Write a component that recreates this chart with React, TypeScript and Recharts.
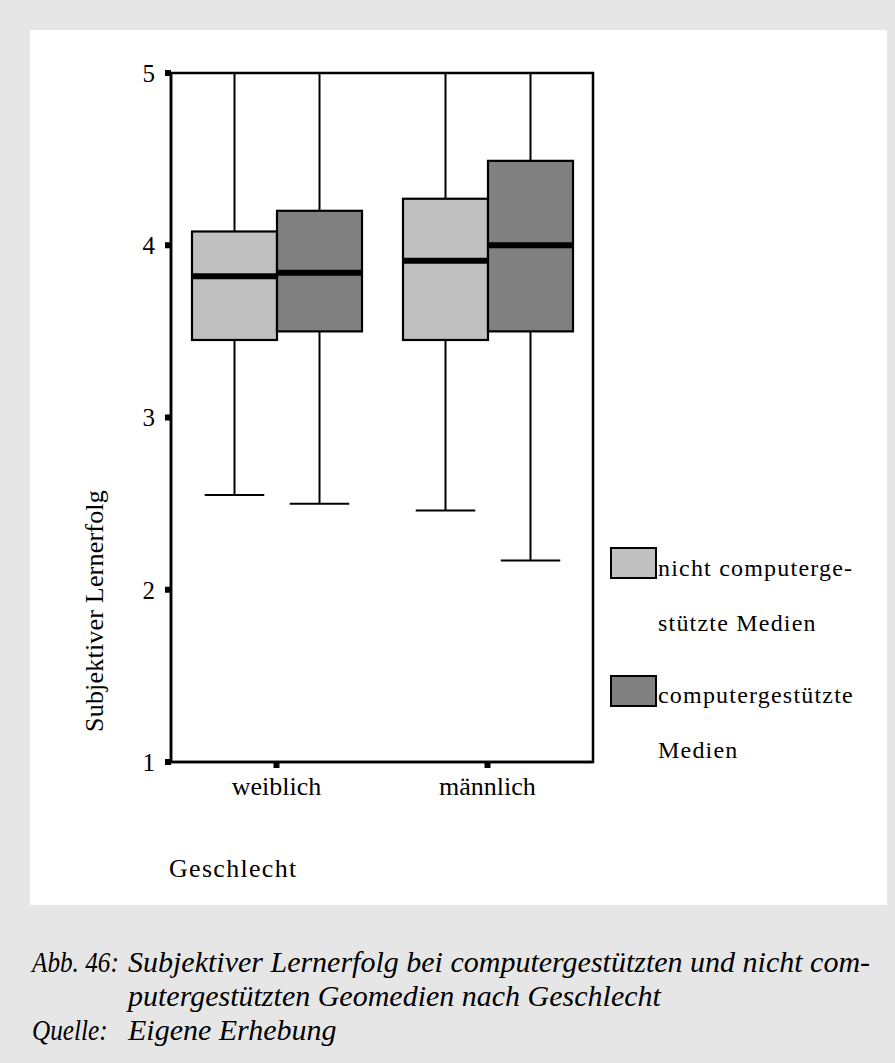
import React from 'react';
import { ComposedChart, Bar, XAxis, YAxis, ReferenceArea, Legend } from 'recharts';

const categories = ['weiblich', 'männlich'];
const seriesNames = ['nicht computergestützte Medien', 'computergestützte Medien'];
const legendLines = [
  ['nicht computerge-', 'stützte Medien'],
  ['computergestützte', 'Medien'],
];
const seriesColors = ['#c0c0c0', '#808080'];

// nicht computergestützte Medien
const nichtMin = [2.55, 2.46];
const nichtQ1 = [3.45, 3.45];
const nichtMedian = [3.82, 3.91];
const nichtQ3 = [4.08, 4.27];
const nichtMax = [5, 5];

// computergestützte Medien
const compMin = [2.5, 2.17];
const compQ1 = [3.5, 3.5];
const compMedian = [3.84, 4.0];
const compQ3 = [4.2, 4.49];
const compMax = [5, 5];

const yTicks = [1, 2, 3, 4, 5];
const yTitle = 'Subjektiver Lernerfolg';
const xTitle = 'Geschlecht';
const caption = [
  ['Abb. 46:', 'Subjektiver Lernerfolg bei computergestützten und nicht com-'],
  ['', 'putergestützten Geomedien nach Geschlecht'],
  ['Quelle:', 'Eigene Erhebung'],
];

const data = categories.map((gender, i) => ({
  gender,
  nicht: [nichtQ1[i], nichtQ3[i]],
  comp: [compQ1[i], compQ3[i]],
  nichtStats: { min: nichtMin[i], q1: nichtQ1[i], med: nichtMedian[i], q3: nichtQ3[i], max: nichtMax[i] },
  compStats: { min: compMin[i], q1: compQ1[i], med: compMedian[i], q3: compQ3[i], max: compMax[i] },
}));

const serif = '"Liberation Serif", "Times New Roman", serif';

function BoxShape(props: any) {
  const { x, y, width, height, payload, fill, statsKey } = props;
  const s = payload[statsKey];
  const top = Math.min(y, y + height);
  const bottom = Math.max(y, y + height);
  const ppu = (bottom - top) / (s.q3 - s.q1);
  const toY = (v: number) => bottom - (v - s.q1) * ppu;
  const cx = x + width / 2;
  const cap = width * 0.35;
  return (
    <g>
      <line x1={cx} x2={cx} y1={toY(s.max)} y2={top} stroke="#000" strokeWidth={2} />
      <line x1={cx} x2={cx} y1={bottom} y2={toY(s.min)} stroke="#000" strokeWidth={2} />
      <line x1={cx - cap} x2={cx + cap} y1={toY(s.min)} y2={toY(s.min)} stroke="#000" strokeWidth={2} />
      <line x1={cx - cap} x2={cx + cap} y1={toY(s.max)} y2={toY(s.max)} stroke="#000" strokeWidth={2} />
      <rect x={x} y={top} width={width} height={bottom - top} fill={fill} stroke="#000" strokeWidth={2.2} />
      <line x1={x} x2={x + width} y1={toY(s.med)} y2={toY(s.med)} stroke="#000" strokeWidth={6} />
    </g>
  );
}

function LegendBox() {
  return (
    <svg width={290} height={240} style={{ display: 'block' }}>
      {legendLines.map((lines, i) => (
        <g key={seriesNames[i]}>
          <rect x={11} y={8 + i * 128} width={45} height={30} fill={seriesColors[i]} stroke="#000" strokeWidth={2} />
          {lines.map((t, j) => (
            <text key={t} x={58} y={36 + i * 127 + j * 55} fontFamily={serif} fontSize={24} letterSpacing={1.2} fill="#000">
              {t}
            </text>
          ))}
        </g>
      ))}
    </svg>
  );
}

export default function App() {
  return (
    <div style={{ position: 'absolute', left: 0, top: 0, width: 895, height: 1063, background: '#e6e6e6' }}>
      <div style={{ position: 'absolute', left: 30, top: 30, width: 857, height: 875, background: '#ffffff' }} />
      <div style={{ position: 'absolute', left: 0, top: 0 }}>
        <ComposedChart
          width={895}
          height={905}
          data={data}
          margin={{ top: 73, right: 302, bottom: 113, left: 111 }}
          barGap={0}
        >
          <XAxis
            dataKey="gender"
            height={30}
            axisLine={{ stroke: '#000', strokeWidth: 2.5 }}
            tickLine={{ stroke: '#000', strokeWidth: 6 }}
            tickSize={6}
            tickMargin={9}
            tick={{ fill: '#000', fontSize: 26, fontFamily: serif }}
            label={{
              content: () => (
                <text x={169} y={877} fontFamily={serif} fontSize={26} letterSpacing={1.3} fill="#000">
                  {xTitle}
                </text>
              ),
            }}
          />
          <YAxis
            type="number"
            domain={[1, 5]}
            ticks={yTicks}
            width={60}
            axisLine={{ stroke: '#000', strokeWidth: 2.5 }}
            tickLine={{ stroke: '#000', strokeWidth: 6 }}
            tickSize={6}
            tickMargin={10}
            tick={{ fill: '#000', fontSize: 25, fontFamily: serif }}
            label={{
              content: () => (
                <text
                  x={103}
                  y={611}
                  transform="rotate(-90, 103, 611)"
                  textAnchor="middle"
                  fontFamily={serif}
                  fontSize={26}
                  letterSpacing={0.2}
                  fill="#000"
                >
                  {yTitle}
                </text>
              ),
            }}
          />
          <ReferenceArea y1={1} y2={5} fill="none" stroke="#000" strokeWidth={2.5} />
          <Bar
            dataKey="nicht"
            name={seriesNames[0]}
            fill={seriesColors[0]}
            barSize={85}
            isAnimationActive={false}
            activeBar={false}
            shape={(p: any) => <BoxShape {...p} statsKey="nichtStats" />}
          />
          <Bar
            dataKey="comp"
            name={seriesNames[1]}
            fill={seriesColors[1]}
            barSize={85}
            isAnimationActive={false}
            activeBar={false}
            shape={(p: any) => <BoxShape {...p} statsKey="compStats" />}
          />
          <Legend
            layout="horizontal"
            verticalAlign="middle"
            align="center"
            content={() => <LegendBox />}
            wrapperStyle={{ position: 'absolute', left: 600, top: 540, width: 290, height: 240 }}
          />
        </ComposedChart>
      </div>
      <div
        style={{
          position: 'absolute',
          left: 32,
          top: 944.6,
          fontFamily: serif,
          fontStyle: 'italic',
          fontSize: 30,
          lineHeight: '34px',
          color: '#000',
          whiteSpace: 'nowrap',
        }}
      >
        {caption.map(([label, text], i) => (
          <div key={i} style={{ display: 'flex' }}>
            <span style={{ display: 'inline-block', width: 96 }}>
              <span style={{ display: 'inline-block', transform: 'scaleX(0.84)', transformOrigin: '0 0' }}>{label}</span>
            </span>
            <span>{text}</span>
          </div>
        ))}
      </div>
    </div>
  );
}
